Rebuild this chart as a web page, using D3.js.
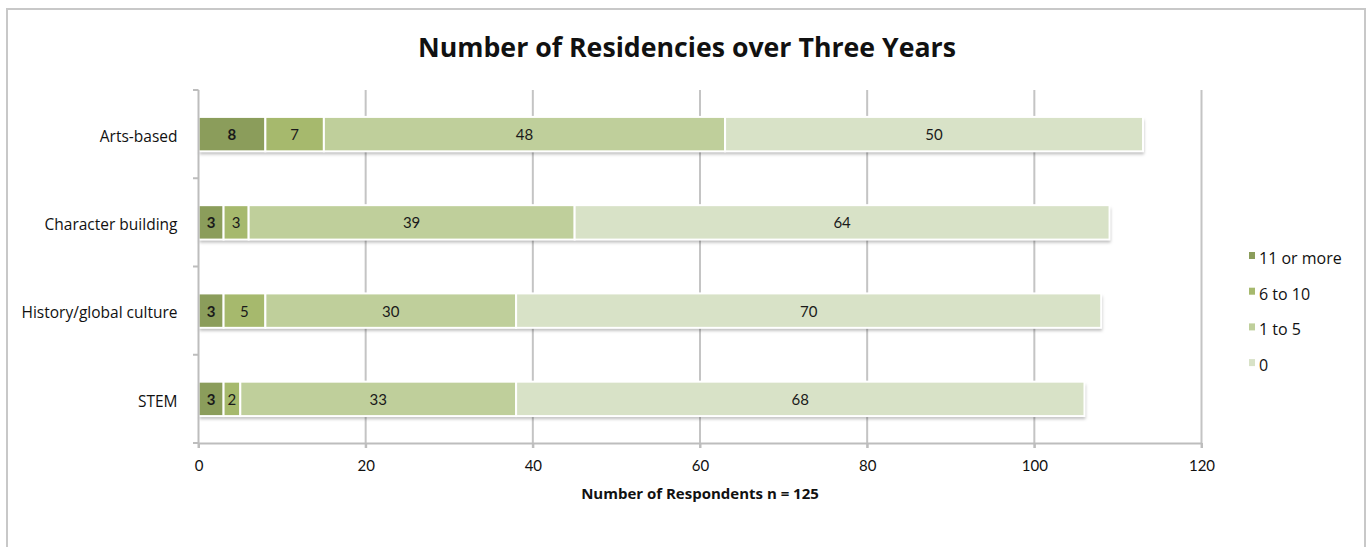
<!DOCTYPE html>
<html>
<head>
<meta charset="utf-8">
<script src="https://cdn.jsdelivr.net/npm/d3@7"></script>
<style>
  body { margin: 0; background: #fff; }
  svg { display: block; font-family: "Open Sans", sans-serif; }
</style>
</head>
<body>
<div id="chart"></div>
<script>
const categories = ["Arts-based", "Character building", "History/global culture", "STEM"];
const seriesNames = ["11 or more", "6 to 10", "1 to 5", "0"];
const elevenPlus = [8, 3, 3, 3];
const sixToTen = [7, 3, 5, 2];
const oneToFive = [48, 39, 30, 33];
const zero = [50, 64, 70, 68];
const xTicks = [0, 20, 40, 60, 80, 100, 120];
const colors = ["#8b9d5b", "#a6b96d", "#bfcf9b", "#d8e2c7"];

const W = 1372, H = 547;
const numFont = "Lato, 'Open Sans', sans-serif";
const svg = d3.select("#chart").append("svg").attr("width", W).attr("height", H);

// outer frame
svg.append("rect").attr("x", 7).attr("y", 9).attr("width", 1358).attr("height", 560)
  .attr("fill", "#fff").attr("stroke", "#c8c8c8").attr("stroke-width", 2);

svg.append("text").attr("x", 687).attr("y", 57).attr("text-anchor", "middle")
  .attr("font-size", 26).attr("font-weight", "bold").attr("fill", "#111")
  .attr("textLength", 538).attr("lengthAdjust", "spacingAndGlyphs")
  .text("Number of Residencies over Three Years");

const x = d3.scaleLinear().domain([0, 120]).range([198.5, 1201.5]);
const y = d3.scaleBand().domain(categories).range([90, 443]).paddingInner(0.61).paddingOuter(0.305);

const rows = categories.map((c, i) => ({ cat: c, vals: [elevenPlus[i], sixToTen[i], oneToFive[i], zero[i]] }));

// gridlines
svg.append("g").selectAll("line").data(xTicks.slice(1)).join("line")
  .attr("x1", d => x(d)).attr("x2", d => x(d)).attr("y1", 90).attr("y2", 448)
  .attr("stroke", "#c4c4c4").attr("stroke-width", 2);

// bars
const defs = svg.append("defs");
const f = defs.append("filter").attr("id", "sh").attr("x", "-5%").attr("y", "-20%").attr("width", "110%").attr("height", "160%");
f.append("feDropShadow").attr("dx", 1).attr("dy", 3).attr("stdDeviation", 1.5).attr("flood-color", "#000").attr("flood-opacity", 0.25);

rows.forEach(r => {
  let acc = 0;
  const segs = r.vals.map((v, k) => { const s = { k, v, x0: acc, x1: acc + v }; acc += v; return s; });
  const g = svg.append("g");
  g.append("rect").attr("x", x(0)).attr("y", y(r.cat)).attr("width", x(acc) - x(0)).attr("height", y.bandwidth())
    .attr("fill", "#fff").attr("filter", "url(#sh)");
  g.selectAll("rect.seg").data(segs).join("rect").attr("class", "seg")
    .attr("x", d => x(d.x0)).attr("y", y(r.cat)).attr("width", d => x(d.x1) - x(d.x0)).attr("height", y.bandwidth())
    .attr("fill", d => colors[d.k]).attr("stroke", "#fff").attr("stroke-width", 2);
  g.selectAll("text").data(segs).join("text")
    .attr("x", d => (x(d.x0) + x(d.x1)) / 2).attr("y", y(r.cat) + y.bandwidth() / 2 + 6)
    .attr("text-anchor", "middle").attr("font-size", 15).attr("fill", "#1a1a1a")
    .style("font-family", numFont)
    .attr("font-weight", d => d.k === 0 ? "bold" : "normal")
    .text(d => d.v);
});

// axes
const xAxis = svg.append("g").attr("transform", "translate(0,443)")
  .call(d3.axisBottom(x).tickValues(xTicks).tickSize(5).tickSizeOuter(0));
xAxis.select(".domain").attr("stroke", "#bdbdbd").attr("stroke-width", 2);
xAxis.selectAll(".tick line").attr("stroke", "#bdbdbd").attr("stroke-width", 2);
xAxis.selectAll(".tick text").attr("font-size", 15).attr("fill", "#111").attr("dy", "1.3em")
  .style("font-family", numFont);

const yAxis = svg.append("g").attr("transform", "translate(198.5,0)")
  .call(d3.axisLeft(y).tickSize(0).tickPadding(21));
yAxis.select(".domain").remove();
yAxis.selectAll(".tick text").attr("font-size", 15.5).attr("fill", "#111").attr("dy", "0.5em")
  .style("font-family", "'Open Sans', sans-serif");
svg.append("line").attr("x1", 198.5).attr("x2", 198.5).attr("y1", 90).attr("y2", 448)
  .attr("stroke", "#bdbdbd").attr("stroke-width", 2);
const sepY = [90].concat(categories.map(c => y(c) + y.bandwidth() + y.step() * y.paddingInner() / 2));
svg.append("g").selectAll("line").data(sepY).join("line")
  .attr("x1", 193).attr("x2", 198.5).attr("y1", d => d).attr("y2", d => d)
  .attr("stroke", "#bdbdbd").attr("stroke-width", 2);

svg.append("text").attr("x", 700).attr("y", 499).attr("text-anchor", "middle")
  .attr("font-size", 15).attr("font-weight", "bold").attr("fill", "#111")
  .text("Number of Respondents n = 125");

// legend
const lg = svg.append("g").selectAll("g").data(seriesNames).join("g")
  .attr("transform", (d, i) => `translate(1249,${264 + i * 35.7})`);
lg.append("rect").attr("x", 0).attr("y", -12).attr("width", 6).attr("height", 7).attr("fill", (d, i) => colors[i]);
lg.append("text").attr("x", 10).attr("y", 0).attr("font-size", 16).attr("fill", "#111").text(d => d);
</script>
</body>
</html>
